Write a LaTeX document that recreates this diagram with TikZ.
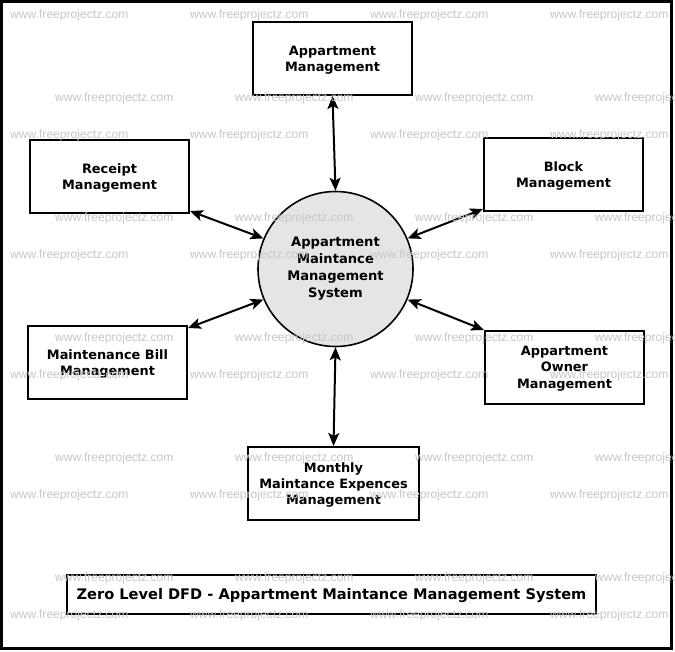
\documentclass[tikz,border=0pt]{standalone}
\usepackage{fontspec}
\setmainfont{DejaVu Sans}
\newfontfamily\wmfont{Liberation Sans}
\usetikzlibrary{arrows.meta,calc}
\begin{document}
\begin{tikzpicture}[x=1pt,y=-1pt,
  ent/.style={draw=black,line width=2pt,fill=white,rectangle,inner sep=0pt,
    minimum height=73pt},
  lbl/.style={inner sep=0pt,align=center,font=\fontsize{12.9}{16.3}\selectfont\bfseries},
  proc/.style={draw=black,line width=1.6pt,fill=black!10,circle,inner sep=0pt,
    minimum size=155pt,align=center,font=\fontsize{13.1}{17}\selectfont\bfseries},
  flow/.style={line width=2pt,{Stealth[length=13pt,width=11pt,inset=3pt]}-{Stealth[length=13pt,width=11pt,inset=3pt]}},
  wm/.style={anchor=west,inner sep=0pt,text=black!22,font=\wmfont\fontsize{12.1}{12}\selectfont}
]
\useasboundingbox (0,0) rectangle (675,652);
\fill[white] (0,0) rectangle (675,652);
\draw[line width=3pt] (1.5,1.5) rectangle (671.5,648);

\node[proc] (c) at (335.5,269) {Appartment\\Maintance\\Management\\System};

\node[ent,minimum width=159pt] (app) at (332.5,58.5) {};
\node[ent,minimum width=159pt] (rec) at (109.5,176.5) {};
\node[ent,minimum width=159pt] (blk) at (563.5,174.5) {};
\node[ent,minimum width=159pt] (mb) at (107.5,362.5) {};
\node[ent,minimum width=159pt] (own) at (564.5,367.5) {};
\node[ent,minimum width=171pt] (mon) at (333.5,483.5) {};
\node[ent,minimum width=529pt,minimum height=39pt] (title) at (331.5,594.5) {};

\node[lbl] (appt) at ($(app.center)+(0,1.8)$) {Appartment\\Management};
\node[lbl] (rect) at ($(rec.center)+(0,1.8)$) {Receipt\\Management};
\node[lbl] (blkt) at ($(blk.center)+(0,1.8)$) {Block\\Management};
\node[lbl] (mbt) at ($(mb.center)+(0,1.8)$) {Maintenance Bill\\Management};
\node[lbl] (ownt) at ($(own.center)+(0,1)$) {Appartment\\Owner\\Management};
\node[lbl] (mont) at ($(mon.center)+(0,1.5)$) {Monthly\\Maintance Expences\\Management};
\node[lbl,font=\fontsize{14.6}{16}\selectfont\bfseries] (titlet) at ($(title.center)+(0,1.5)$) {Zero Level DFD - Appartment Maintance Management System};

\draw[flow] (app.south) -- (c.north);
\draw[flow] ($(rec.south east)+(0,-3)$) -- (c.157);
\draw[flow] ($(blk.south west)+(0,-3)$) -- (c.23);
\draw[flow] ($(mb.north east)+(0,3)$) -- (c.203);
\draw[flow] (own.north west) -- (c.337);
\draw[flow] (mon.north) -- (c.south);

\foreach \yy in {15,135,255,375,495,615} {
  \foreach \xx [count=\i] in {10,190,370,550} {
    \node[wm] (wa\i-\yy) at (\xx,\yy) {www.freeprojectz.com};
  }
}
\foreach \yy in {98,218,338,458,578} {
  \foreach \xx [count=\i] in {55,235,415,595} {
    \node[wm] (wb\i-\yy) at (\xx,\yy) {www.freeprojectz.com};
  }
}
\end{tikzpicture}
\end{document}
